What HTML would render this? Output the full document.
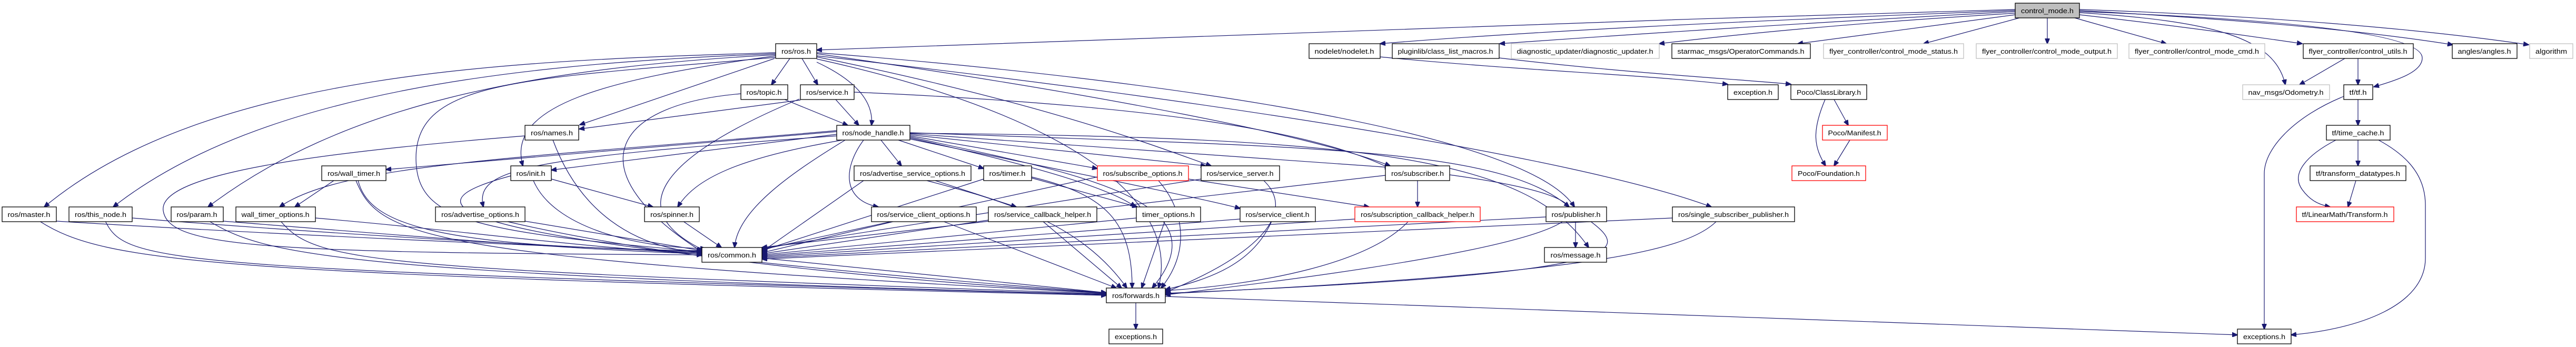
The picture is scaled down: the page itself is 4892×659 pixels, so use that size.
<!DOCTYPE html>
<html><head><meta charset="utf-8"><style>
html,body{margin:0;padding:0;background:#fff;}
svg{display:block;}
text{font-family:"Liberation Sans",sans-serif;font-size:13px;fill:#000;}
.e{fill:none;stroke:#191970;stroke-width:1.2;}
</style></head><body>
<svg width="4892" height="659" viewBox="0 0 4892 659" xmlns="http://www.w3.org/2000/svg">
<defs>
<marker id="a" markerWidth="11" markerHeight="9" refX="10" refY="4.5" orient="auto" markerUnits="userSpaceOnUse">
<polygon points="0,0 11,4.5 0,9" fill="#191970" stroke="#191970"/>
</marker>
</defs>
<g class="e" marker-end="url(#a)">
<path d="M3827,18 C3000,40 2000,80 1551,95"/>
<path d="M3827,20 C3300,40 2900,60 2621,83"/>
<path d="M3827,22 C3400,45 3100,65 2848,83"/>
<path d="M3827,25 C3500,45 3300,65 3151,83"/>
<path d="M3827,28 C3700,45 3550,65 3414,83"/>
<path d="M3835,34 L3653,83"/>
<path d="M3888,34 L3888,83"/>
<path d="M3940,34 L4114,83"/>
<path d="M3949,28 C4100,45 4250,65 4372,83"/>
<path d="M3949,24 C4200,40 4320,70 4340,161"/>
<path d="M3949,22 C4300,35 4600,60 4600,110 C4600,135 4560,150 4508,165"/>
<path d="M3949,20 C4300,40 4500,60 4658,85"/>
<path d="M3949,18 C4300,30 4600,55 4802,85"/>
<path d="M4453,111 L4367,161"/>
<path d="M4478,111 L4478,161"/>
<path d="M4478,189 L4478,238"/>
<path d="M4451,183 C4360,220 4300,280 4300,330 L4300,625"/>
<path d="M4478,266 L4478,315"/>
<path d="M4436,266 C4380,295 4350,330 4372,360 C4385,378 4400,388 4425,393"/>
<path d="M4517,266 C4580,300 4606,340 4606,390 L4606,490 C4606,580 4480,625 4351,636"/>
<path d="M4474,343 L4459,393"/>
<path d="M3483,189 L3510,238"/>
<path d="M3466,189 C3440,250 3445,280 3467,315"/>
<path d="M3513,266 L3483,315"/>
<path d="M2621,108 C2900,135 3100,140 3281,160"/>
<path d="M2847,110 C3100,140 3300,150 3401,160"/>
<path d="M1473,100 C1000,115 400,130 84,393"/>
<path d="M1473,102 C1000,120 500,170 215,393"/>
<path d="M1473,104 C1000,130 650,200 395,393"/>
<path d="M1500,111 L1465,161"/>
<path d="M1523,111 L1553,161"/>
<path d="M1471,111 L1101,237"/>
<path d="M1473,106 C1150,150 960,200 993,315"/>
<path d="M1551,118 C1620,150 1660,190 1655,238"/>
<path d="M1473,109 C1000,150 790,150 790,300 C790,420 900,440 1333,478"/>
<path d="M1551,102 C2100,180 2500,260 2640,315"/>
<path d="M1551,100 C2200,150 2900,250 2990,393"/>
<path d="M1551,106 C2300,190 3000,300 3250,393"/>
<path d="M1551,108 C2000,200 2200,280 2300,315"/>
<path d="M1551,112 C1950,200 2250,350 2200,547"/>
<path d="M1407,178 C1150,200 1100,330 1333,478"/>
<path d="M1490,189 L1610,238"/>
<path d="M1587,189 L1631,238"/>
<path d="M1520,190 L1100,245"/>
<path d="M1518,188 C1250,300 1180,400 1338,476"/>
<path d="M1622,175 C2200,200 2500,250 2640,320"/>
<path d="M1050,266 C1100,400 1200,470 1333,480"/>
<path d="M997,258 C600,290 300,330 310,400 C320,470 500,480 1333,484"/>
<path d="M1589,250 L733,322"/>
<path d="M1589,248 C1000,300 650,310 531,393"/>
<path d="M1589,255 L1047,323"/>
<path d="M1589,258 C1000,300 900,320 918,393"/>
<path d="M1600,266 C1400,300 1320,340 1287,393"/>
<path d="M1605,266 C1500,330 1400,400 1395,470"/>
<path d="M1673,266 L1712,315"/>
<path d="M1706,266 L1868,320"/>
<path d="M1728,258 L2084,320"/>
<path d="M1728,256 L2290,315"/>
<path d="M1728,254 L2640,318"/>
<path d="M1640,266 C1600,320 1600,380 1668,393"/>
<path d="M1728,262 C1900,300 2100,350 2156,393"/>
<path d="M1728,264 C2000,320 2300,380 2355,396"/>
<path d="M1728,252 C2500,280 2850,280 2980,393"/>
<path d="M1728,260 C2050,330 2330,380 2188,547"/>
<path d="M1728,253 C2600,260 2900,300 3017,470"/>
<path d="M107,420 C600,450 1100,470 1333,478"/>
<path d="M75,420 C200,500 400,520 2101,561"/>
<path d="M251,414 C700,450 1100,470 1333,480"/>
<path d="M200,420 C240,500 300,510 2101,560"/>
<path d="M424,420 C800,450 1100,475 1333,482"/>
<path d="M397,420 C500,480 600,520 2101,559"/>
<path d="M599,414 C900,440 1100,470 1333,482"/>
<path d="M533,420 C600,500 700,510 2101,558"/>
<path d="M634,343 L560,393"/>
<path d="M680,343 C700,420 800,470 1333,476"/>
<path d="M676,343 C720,450 800,490 2101,557"/>
<path d="M1013,343 C1050,430 1200,470 1340,472"/>
<path d="M1047,340 L1240,393"/>
<path d="M970,334 C800,380 700,450 2101,556"/>
<path d="M997,420 L1333,476"/>
<path d="M960,420 C1300,500 1800,540 2101,556"/>
<path d="M1297,420 L1370,470"/>
<path d="M1640,343 L1447,478"/>
<path d="M1776,343 L1930,393"/>
<path d="M1760,343 C1900,380 2050,420 2140,547"/>
<path d="M1868,340 L1447,476"/>
<path d="M1959,338 L2160,393"/>
<path d="M1959,336 C2100,370 2150,420 2150,547"/>
<path d="M2084,336 L1447,474"/>
<path d="M2257,340 L2600,393"/>
<path d="M2200,343 C2250,400 2260,480 2205,547"/>
<path d="M2281,340 L1447,472"/>
<path d="M2400,343 C2460,400 2400,480 2213,555"/>
<path d="M2631,333 L1447,470"/>
<path d="M2692,343 L2692,393"/>
<path d="M2753,332 C3100,380 3150,450 2213,560"/>
<path d="M1700,420 L1447,480"/>
<path d="M1790,420 L2120,547"/>
<path d="M1877,418 L1447,482"/>
<path d="M1980,420 L2130,547"/>
<path d="M2158,414 L1447,484"/>
<path d="M2212,420 L2168,547"/>
<path d="M2355,416 L1447,486"/>
<path d="M2415,420 C2380,500 2300,530 2213,550"/>
<path d="M2573,416 L1447,488"/>
<path d="M2675,420 C2600,500 2400,540 2213,552"/>
<path d="M2936,412 L1447,490"/>
<path d="M2992,420 L2992,470"/>
<path d="M3020,420 C3100,480 3100,520 2213,557"/>
<path d="M3176,414 L1447,492"/>
<path d="M3260,420 C3200,480 3000,520 2213,558"/>
<path d="M1447,490 L2101,556"/>
<path d="M2157,575 L2157,625"/>
<path d="M2213,563 L4249,636"/>
</g>
<g fill="#fff" stroke="#000" stroke-width="1.3">
<rect x="3827" y="6" width="122" height="28" fill="#bfbfbf"/>
<rect x="1473" y="83" width="78" height="28"/>
<rect x="2486" y="83" width="135" height="28"/>
<rect x="2644" y="83" width="203" height="28"/>
<rect x="2870" y="83" width="281" height="28" stroke="#bfbfbf"/>
<rect x="3175" y="83" width="263" height="28"/>
<rect x="3463" y="83" width="266" height="28" stroke="#bfbfbf"/>
<rect x="3753" y="83" width="268" height="28" stroke="#bfbfbf"/>
<rect x="4043" y="83" width="258" height="28" stroke="#bfbfbf"/>
<rect x="4374" y="83" width="209" height="28"/>
<rect x="4657" y="83" width="123" height="28"/>
<rect x="4804" y="83" width="82" height="28" stroke="#bfbfbf"/>
<rect x="1407" y="161" width="89" height="28"/>
<rect x="1520" y="161" width="102" height="28"/>
<rect x="3281" y="161" width="96" height="28"/>
<rect x="3401" y="161" width="144" height="28"/>
<rect x="4259" y="161" width="165" height="28" stroke="#bfbfbf"/>
<rect x="4451" y="161" width="55" height="28"/>
<rect x="997" y="238" width="102" height="28"/>
<rect x="1589" y="238" width="139" height="28"/>
<rect x="3461" y="238" width="123" height="28" stroke="#ff0000"/>
<rect x="4418" y="238" width="121" height="28"/>
<rect x="611" y="315" width="122" height="28"/>
<rect x="970" y="315" width="77" height="28"/>
<rect x="1622" y="315" width="222" height="28"/>
<rect x="1868" y="315" width="91" height="28"/>
<rect x="2084" y="315" width="173" height="28" stroke="#ff0000"/>
<rect x="2281" y="315" width="149" height="28"/>
<rect x="2631" y="315" width="122" height="28"/>
<rect x="3403" y="315" width="140" height="28" stroke="#ff0000"/>
<rect x="4387" y="315" width="182" height="28"/>
<rect x="4" y="393" width="103" height="28"/>
<rect x="131" y="393" width="120" height="28"/>
<rect x="325" y="393" width="99" height="28"/>
<rect x="448" y="393" width="151" height="28"/>
<rect x="827" y="393" width="170" height="28"/>
<rect x="1224" y="393" width="104" height="28"/>
<rect x="1655" y="393" width="199" height="28"/>
<rect x="1877" y="393" width="206" height="28"/>
<rect x="2158" y="393" width="122" height="28"/>
<rect x="2355" y="393" width="143" height="28"/>
<rect x="2573" y="393" width="238" height="28" stroke="#ff0000"/>
<rect x="2936" y="393" width="115" height="28"/>
<rect x="3176" y="393" width="232" height="28"/>
<rect x="4361" y="393" width="185" height="28" stroke="#ff0000"/>
<rect x="1333" y="470" width="114" height="28"/>
<rect x="2933" y="470" width="118" height="28"/>
<rect x="2101" y="547" width="112" height="28"/>
<rect x="2106" y="625" width="102" height="28"/>
<rect x="4249" y="625" width="102" height="28"/>
</g>
<g text-anchor="middle">
<text x="3888" y="25" textLength="100" lengthAdjust="spacingAndGlyphs">control_mode.h</text>
<text x="1512" y="102" textLength="56" lengthAdjust="spacingAndGlyphs">ros/ros.h</text>
<text x="2553" y="102" textLength="113" lengthAdjust="spacingAndGlyphs">nodelet/nodelet.h</text>
<text x="2745" y="102" textLength="181" lengthAdjust="spacingAndGlyphs">pluginlib/class_list_macros.h</text>
<text x="3010" y="102" textLength="259" lengthAdjust="spacingAndGlyphs">diagnostic_updater/diagnostic_updater.h</text>
<text x="3306" y="102" textLength="241" lengthAdjust="spacingAndGlyphs">starmac_msgs/OperatorCommands.h</text>
<text x="3596" y="102" textLength="244" lengthAdjust="spacingAndGlyphs">flyer_controller/control_mode_status.h</text>
<text x="3887" y="102" textLength="246" lengthAdjust="spacingAndGlyphs">flyer_controller/control_mode_output.h</text>
<text x="4172" y="102" textLength="236" lengthAdjust="spacingAndGlyphs">flyer_controller/control_mode_cmd.h</text>
<text x="4478" y="102" textLength="187" lengthAdjust="spacingAndGlyphs">flyer_controller/control_utils.h</text>
<text x="4718" y="102" textLength="101" lengthAdjust="spacingAndGlyphs">angles/angles.h</text>
<text x="4845" y="102" textLength="60" lengthAdjust="spacingAndGlyphs">algorithm</text>
<text x="1451" y="180" textLength="67" lengthAdjust="spacingAndGlyphs">ros/topic.h</text>
<text x="1571" y="180" textLength="80" lengthAdjust="spacingAndGlyphs">ros/service.h</text>
<text x="3329" y="180" textLength="74" lengthAdjust="spacingAndGlyphs">exception.h</text>
<text x="3473" y="180" textLength="122" lengthAdjust="spacingAndGlyphs">Poco/ClassLibrary.h</text>
<text x="4341" y="180" textLength="143" lengthAdjust="spacingAndGlyphs">nav_msgs/Odometry.h</text>
<text x="4478" y="180" textLength="33" lengthAdjust="spacingAndGlyphs">tf/tf.h</text>
<text x="1048" y="257" textLength="80" lengthAdjust="spacingAndGlyphs">ros/names.h</text>
<text x="1658" y="257" textLength="117" lengthAdjust="spacingAndGlyphs">ros/node_handle.h</text>
<text x="3522" y="257" textLength="101" lengthAdjust="spacingAndGlyphs">Poco/Manifest.h</text>
<text x="4478" y="257" textLength="99" lengthAdjust="spacingAndGlyphs">tf/time_cache.h</text>
<text x="672" y="334" textLength="100" lengthAdjust="spacingAndGlyphs">ros/wall_timer.h</text>
<text x="1008" y="334" textLength="55" lengthAdjust="spacingAndGlyphs">ros/init.h</text>
<text x="1733" y="334" textLength="200" lengthAdjust="spacingAndGlyphs">ros/advertise_service_options.h</text>
<text x="1913" y="334" textLength="69" lengthAdjust="spacingAndGlyphs">ros/timer.h</text>
<text x="2170" y="334" textLength="151" lengthAdjust="spacingAndGlyphs">ros/subscribe_options.h</text>
<text x="2355" y="334" textLength="127" lengthAdjust="spacingAndGlyphs">ros/service_server.h</text>
<text x="2692" y="334" textLength="100" lengthAdjust="spacingAndGlyphs">ros/subscriber.h</text>
<text x="3473" y="334" textLength="118" lengthAdjust="spacingAndGlyphs">Poco/Foundation.h</text>
<text x="4478" y="334" textLength="160" lengthAdjust="spacingAndGlyphs">tf/transform_datatypes.h</text>
<text x="55" y="412" textLength="81" lengthAdjust="spacingAndGlyphs">ros/master.h</text>
<text x="191" y="412" textLength="98" lengthAdjust="spacingAndGlyphs">ros/this_node.h</text>
<text x="374" y="412" textLength="77" lengthAdjust="spacingAndGlyphs">ros/param.h</text>
<text x="523" y="412" textLength="129" lengthAdjust="spacingAndGlyphs">wall_timer_options.h</text>
<text x="912" y="412" textLength="148" lengthAdjust="spacingAndGlyphs">ros/advertise_options.h</text>
<text x="1276" y="412" textLength="82" lengthAdjust="spacingAndGlyphs">ros/spinner.h</text>
<text x="1754" y="412" textLength="177" lengthAdjust="spacingAndGlyphs">ros/service_client_options.h</text>
<text x="1980" y="412" textLength="184" lengthAdjust="spacingAndGlyphs">ros/service_callback_helper.h</text>
<text x="2219" y="412" textLength="100" lengthAdjust="spacingAndGlyphs">timer_options.h</text>
<text x="2426" y="412" textLength="121" lengthAdjust="spacingAndGlyphs">ros/service_client.h</text>
<text x="2692" y="412" textLength="216" lengthAdjust="spacingAndGlyphs">ros/subscription_callback_helper.h</text>
<text x="2993" y="412" textLength="93" lengthAdjust="spacingAndGlyphs">ros/publisher.h</text>
<text x="3292" y="412" textLength="210" lengthAdjust="spacingAndGlyphs">ros/single_subscriber_publisher.h</text>
<text x="4453" y="412" textLength="163" lengthAdjust="spacingAndGlyphs">tf/LinearMath/Transform.h</text>
<text x="1390" y="489" textLength="92" lengthAdjust="spacingAndGlyphs">ros/common.h</text>
<text x="2992" y="489" textLength="95" lengthAdjust="spacingAndGlyphs">ros/message.h</text>
<text x="2157" y="566" textLength="90" lengthAdjust="spacingAndGlyphs">ros/forwards.h</text>
<text x="2157" y="644" textLength="80" lengthAdjust="spacingAndGlyphs">exceptions.h</text>
<text x="4300" y="644" textLength="80" lengthAdjust="spacingAndGlyphs">exceptions.h</text>
</g>
</svg>
</body></html>
